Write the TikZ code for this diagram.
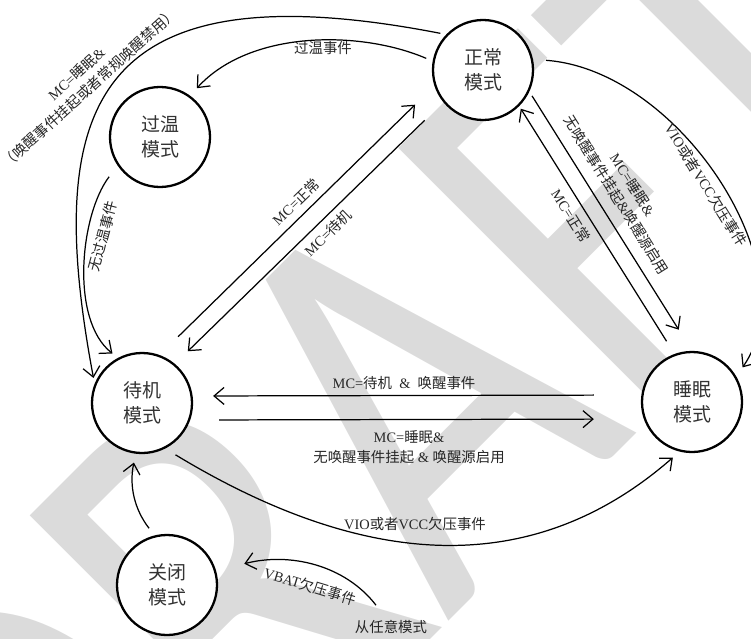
\documentclass[tikz,border=0pt]{standalone}
\usepackage{fontspec}
\setmainfont{Liberation Serif}
\newfontfamily\cjk{Noto Sans CJK SC}
\newfontfamily\carlito{Carlito}
\usetikzlibrary{arrows.meta}

\begin{document}
\begin{tikzpicture}[
    >={Straight Barb[length=0.2cm,width=0.34cm]},
    mode/.style={circle, draw, fill=white, line width=1.3pt, minimum size=2cm, inner sep=0pt, align=center, text=black!80, font=\cjk\fontsize{10.8}{14.2}\selectfont},
    lbl/.style={inner sep=1pt, align=center, text=black!85, font=\fontsize{8.2}{11}\selectfont},
    tr/.style={draw, ->, line width=0.7pt, shorten >=0.18cm, shorten <=0.18cm},
    wm/.style={anchor=base west, rotate=45, yscale=1.24, inner sep=0pt, text=black!14, font=\carlito\fontsize{265}{265}\selectfont}]
    \useasboundingbox (0,0) rectangle (15.02,-12.76);
    \node[wm] (wmark) at (1.32,-20.09) {DRAFT};

    \node[mode] (zc) at (9.66,-1.40) {正常\\模式};
    \node[mode] (gw) at (3.20,-2.74) {过温\\模式};
    \node[mode] (dj) at (2.84,-8.06) {待机\\模式};
    \node[mode] (sm) at (13.84,-8.04) {睡眠\\模式};
    \node[mode] (gb) at (3.34,-11.70) {关闭\\模式};
    \node[lbl] (fm) at (7.82,-12.54) {{\cjk 从任意模式}};

    \draw[tr, shorten <=0.12cm, shorten >=0.12cm] (zc.136) .. controls (1.78,0.70) and (0.86,-2.18) .. (dj.158);
    \draw[tr, shorten <=0.14cm, shorten >=0.2cm] (zc.170) .. controls (7.2,-0.6) and (5.0,-0.6) .. (gw.54);
    \draw[tr, shorten <=0.28cm, shorten >=0.14cm] (gw.214) .. controls (1.6,-4.3) and (1.4,-6.4) .. (dj.118);
    \draw[tr, shorten <=0.52cm, shorten >=0.54cm] (dj.70) -- (zc.198);
    \draw[tr, shorten <=0.52cm, shorten >=0.36cm] (zc.219) -- (dj.50);
    \draw[tr, shorten <=0.30cm, shorten >=0.06cm] (sm.110) -- (zc.315);
    \draw[tr, shorten <=0.10cm, shorten >=0.50cm] (zc.335) -- (sm.90);
    \draw[tr, shorten <=0.26cm, shorten >=0.22cm] (zc.12) .. controls (13.6,-1.4) and (16.2,-5.4) .. (sm.30);
    \draw[tr, shorten <=0.94cm, shorten >=0.40cm] ([yshift=0.14cm]sm.west) -- ([yshift=0.14cm]dj.east);
    \draw[tr, shorten <=0.52cm, shorten >=0.94cm] ([yshift=-0.34cm]dj.east) -- ([yshift=-0.34cm]sm.west);
    \draw[tr, shorten <=0.24cm] (dj.297) .. controls (7.38,-11.44) and (10.7,-11.56) .. (sm.256);
    \draw[tr] (gb.104) to[bend left=25] (dj.263);
    \draw[tr, shorten <=0pt, shorten >=0.58cm] ([shift={(-0.3,0.26)}]fm.north) .. controls (6.9,-11.3) and (5.8,-11.04) .. (gb.16);

    \node[lbl, rotate=42] (l1) at (1.66,-1.62) {MC={\cjk 睡眠}\&\\{\cjk （唤醒事件挂起或者常规唤醒禁用）}};
    \node[lbl] (l2) at (6.46,-0.96) {{\cjk 过温事件}};
    \node[lbl, rotate=75] (l3) at (2.06,-4.72) {{\cjk 无过温事件}};
    \node[lbl, rotate=44] (l4) at (5.92,-4.04) {MC={\cjk 正常}};
    \node[lbl, rotate=44] (l5) at (6.56,-4.66) {MC={\cjk 待机}};
    \node[lbl, rotate=-58] (l6) at (11.42,-4.32) {MC={\cjk 正常}};
    \node[lbl, rotate=-58] (l7) at (12.49,-3.80) {MC={\cjk 睡眠}\&\\{\cjk 无唤醒事件挂起}\&{\cjk 唤醒源启用}};
    \node[lbl, rotate=-58] (l8) at (14.12,-3.70) {VIO{\cjk 或者}VCC{\cjk 欠压事件}};
    \node[lbl] (l9) at (8.08,-7.66) {MC={\cjk 待机}\ \ \&\ \ {\cjk 唤醒事件}};
    \node[lbl] (l10) at (8.18,-8.94) {MC={\cjk 睡眠}\&\\{\cjk 无唤醒事件挂起} \& {\cjk 唤醒源启用}};
    \node[lbl] (l11) at (8.30,-10.48) {VIO{\cjk 或者}VCC{\cjk 欠压事件}};
    \node[lbl, rotate=-17] (l12) at (6.20,-11.72) {VBAT{\cjk 欠压事件}};
\end{tikzpicture}
\end{document}
